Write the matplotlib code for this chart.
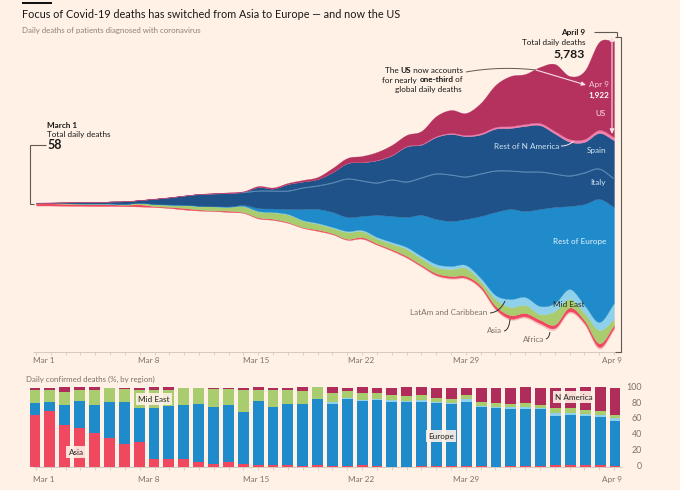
import numpy as np
import matplotlib
matplotlib.use("Agg")
import matplotlib.pyplot as plt

plt.rcParams['font.family'] = ['Lato', 'DejaVu Sans']

# ---------- data ----------
tick_days = [0, 7, 14, 21, 28, 39]
tick_labels = ['Mar 1', 'Mar 8', 'Mar 15', 'Mar 22', 'Mar 29', 'Apr 9']

# Daily deaths by region (stream graph, bottom to top)
africa = [0]*13 + [1,2,3,3,3,4,4,6,6,8,8,10,12,14,20,20,20,20,24,28,30,36,40,30,36,36,40]
asia = [39,42,36,36,34,32,29,42,18,22,30,21,12,25,14,20,20,16,14,24,20,18,30,24,26,30,30,36,40,40,50,60,70,70,70,70,80,60,80,60]
mid_east = [9,9,12,10,15,16,16,29,39,44,61,70,80,78,120,120,129,150,130,118,106,136,118,98,112,138,126,124,140,160,86,136,162,160,114,270,170,144,264,120]
latam = [0]*14 + [4,6,8,10,12,14,18,20,24,30,32,40,50,60,60,60,64,80,160,160,160,160,200,160,160,320]
rest_europe = [1,1,1,1,2,3,3,4,5,5,5,6,6,8,20,60,70,100,220,280,300,280,280,440,520,600,820,900,900,920,1240,1660,1800,1720,1940,1920,1660,2020,2460,1923]
italy = [8,6,16,24,26,38,50,52,100,138,178,226,245,262,250,340,350,360,420,460,580,760,700,640,720,700,740,900,920,840,840,820,760,780,740,660,600,620,600,560]
spain = [0]*8 + [2,3,4,6,8,10,14,80,50,140,130,140,216,316,375,454,492,710,668,740,820,816,790,846,860,920,936,810,686,622,720,770]
rest_n_america = [0]*20 + [3,4,5,6,8,10,12,18,20,24,30,34,38,40,44,50,54,58,62,68]
us = [1,2,3,2,3,1,2,4,4,5,2,2,8,9,12,20,20,22,30,40,80,100,120,160,200,220,260,400,460,440,600,840,1000,1000,1120,1340,1260,1360,1760,1922]
# Lower edge of the stream (deaths below the centre line)
stream_floor = [-30,-30,-34,-36,-40,-40,-44,-50,-60,-80,-110,-130,-140,-160,-180,-290,-320,-380,-480,-540,-610,-720,-700,-820,-940,-1080,-1260,-1440,-1500,-1500,-1700,-2120,-2320,-2280,-2420,-2520,-2180,-2420,-2900,-2520]

# Share of daily deaths, % (bars)
pct_africa = [0]*20 + [0.2]*20
pct_asia = [65,70,52,48.5,42.5,36,29,32,10.6,10,10.6,6.4,3.4,6.4,3.4,3,3,2.5,1.5,2.5,1.5,1.2,3,1.7,.4,.4,1.3,.8,1.3,.8,.8,.4,1.3,1.3,1.3,1.7,2.5,1.7,1.7,1.3]
pct_europe = [16,12,25,34.5,35,46,53,43,63,66.6,67,72,72,71.5,66,80,72,76,78,82.5,79,85,82.5,82.8,81.7,81,80.4,79.6,78,81,74,73,70.6,71.5,71.5,62.5,64,62.5,61.7,56]
pct_latam = [0]*20 + [1.5,1.2,1.7,1.3,2,1.7,2.5,1.7,1.7,3,2,2,2.5,2.5,1.7,4.3,2,2,2,4.3]
pct_mid_east = [15.7,15,17,13.6,19,18,16,22,23,20,22,21,22,20,28,14,22,18,16,15,11.5,8,8.5,8,6.4,6.4,6.8,5,5,4.7,4.7,4,4,4.7,3.8,6.4,6,5,5,4.3]
pct_n_america = [3.4,3,5.5,3.4,3.4,0,2.5,3.4,3,3,0,0,2.5,2.5,3,3.4,3,3,4.6,0,7.6,4.7,7.3,6.8,9.4,10.6,9,12.8,14,10,18,20,21,20,21.7,25.5,26.8,28.9,29.8,34]

# ---------- style ----------
BG = '#fff1e5'
C_US = '#b5325f'; C_PINK = '#f07fae'; C_NAVY = '#1f5288'; C_LINE = '#5f90bd'
C_EUR = '#1f8bca'; C_LAT = '#8fd0ea'; C_ME = '#a9cc6e'; C_ASIA = '#f0495f'; C_AFR = '#f4c6c4'
GREY = '#7d736b'; AXIS = '#d5cabf'; DARK = '#1a1817'; LEAD = '#5f5853'
SMALL = 5.9; LABEL = 5.9

W, H = 680, 490
fig = plt.figure(figsize=(W/100, H/100), dpi=100, facecolor=BG)

def axes_px(x0, x1, y0, y1, **kw):
    return fig.add_axes([x0/W, 1 - y1/H, (x1-x0)/W, (y1-y0)/H], **kw)

def smooth(v, n=16):
    """Cubic (Catmull-Rom) drawing of a daily series, the curve the chart draws between days."""
    v = np.asarray(v, float)
    m = np.gradient(v)
    xs = np.linspace(0, len(v)-1, (len(v)-1)*n+1)
    i = np.minimum(xs.astype(int), len(v)-2)
    t = xs - i
    y = ((2*t**3-3*t**2+1)*v[i] + (t**3-2*t**2+t)*m[i]
         + (-2*t**3+3*t**2)*v[i+1] + (t**3-t**2)*m[i+1])
    return xs, y

# ---------- stream ----------
ax = axes_px(36, 614, 25, 352)
ax.set_facecolor('none')
ax.set_xlim(0, 39)
PX = 20.0  # deaths per pixel
ax.set_ylim((204-352)*PX, (204-25)*PX)

layers = [(africa, C_AFR), (asia, C_ASIA), (mid_east, C_ME), (latam, C_LAT), (rest_europe, C_EUR),
          (italy, C_NAVY), (spain, C_NAVY), (rest_n_america, C_PINK), (us, C_US)]
xs, base = smooth(stream_floor)
edges = []
for vals, col in layers:
    _, th = smooth(vals)
    th = np.clip(th, 0, None)
    top = base + th
    ax.fill_between(xs, base, top, color=col, lw=0.2, zorder=2)
    edges.append(top)
    base = top
mask = xs >= 14
ax.plot(xs[mask], edges[5][mask], color=C_LINE, lw=0.7, zorder=3)
ax.axis('off')

# ---------- bars ----------
bx = axes_px(35, 615, 387.5, 467)
bx.set_facecolor('none')
bx.set_xlim(0, 39)
bx.set_ylim(0, 100)
bar_layers = [(pct_africa, C_AFR), (pct_asia, C_ASIA), (pct_europe, C_EUR), (pct_latam, C_LAT),
              (pct_mid_east, C_ME), (pct_n_america, '#b02c5a')]
totals = np.sum([np.array(v, float) for v, _ in bar_layers], axis=0)
bottom = np.zeros(40)
days = np.arange(40)
for vals, col in bar_layers:
    h = np.array(vals, float) / totals * 100
    bx.bar(days, h, bottom=bottom, width=0.73, color=col, lw=0, clip_on=False, zorder=2)
    bottom += h
bx.axis('off')

# ---------- overlay in pixels ----------
ov = fig.add_axes([0, 0, 1, 1], facecolor='none', zorder=5)
ov.set_xlim(0, W); ov.set_ylim(H, 0); ov.axis('off')

def T(x, y, s, size=SMALL, color=DARK, ha='left', weight='normal', **kw):
    return ov.text(x, y, s, fontsize=size, color=color, ha=ha, va='center', fontweight=weight, **kw)

def mixed(xr, y, parts, size=SMALL, color=DARK):
    """Right aligned line with bold words. parts = [(text, bold), ...]"""
    r = fig.canvas.get_renderer()
    ts = [T(0, y, s, size=size, color=color, weight='bold' if b else 'normal') for s, b in parts]
    inv = ov.transData.inverted()
    ws = []
    for t in ts:
        bb = t.get_window_extent(r)
        ws.append(inv.transform((bb.x1, 0))[0] - inv.transform((bb.x0, 0))[0])
    x = xr - sum(ws)
    for t, w in zip(ts, ws):
        t.set_x(x)
        x += w

def L(xs_, ys_, color=LEAD, lw=0.8, **kw):
    ov.plot(xs_, ys_, color=color, lw=lw, solid_capstyle='butt', solid_joinstyle='miter', **kw)

def curve(p0, p1, p2, color=LEAD, lw=0.7):
    t = np.linspace(0, 1, 30)
    x = (1-t)**2*p0[0] + 2*t*(1-t)*p1[0] + t**2*p2[0]
    y = (1-t)**2*p0[1] + 2*t*(1-t)*p1[1] + t**2*p2[1]
    L(x, y, color=color, lw=lw)

# title block
ov.add_patch(plt.Rectangle((22, 1.8), 30, 2, color='#111111', lw=0))
T(22, 15, 'Focus of Covid-19 deaths has switched from Asia to Europe — and now the US', size=7.8, color='#1a1817')
T(22, 31, 'Daily deaths of patients diagnosed with coronavirus', size=5.7, color='#8b8179')

# axis lines and ticks
for ya, yb in [(352, 355), (467, 470)]:
    L([33, 622], [ya, ya], color=AXIS, lw=0.7)
    for d in range(40):
        xp = 36 + d*578/39
        L([xp, xp], [ya, yb], color=AXIS, lw=0.6)
label_left = [33, 138, 243, 348, 453]
for yl in (360, 479):
    for lab, xl in zip(tick_labels[:5], label_left):
        T(xl, yl, lab, size=LABEL, color=GREY)
    T(622, yl, tick_labels[5], size=LABEL, color=GREY, ha='right')

# left annotation
T(47, 125, 'March 1', size=SMALL, weight='bold')
T(47, 134, 'Total daily deaths', size=SMALL)
T(47, 145, '58', size=9.0, weight='bold')
L([45.5, 30, 30, 34], [145, 145, 204, 204], color=LEAD)

# right annotation
T(585, 33, 'April 9', size=SMALL, ha='right', weight='bold')
T(585, 42.5, 'Total daily deaths', size=SMALL, ha='right')
T(585, 54, '5,783', size=8.8, ha='right', weight='bold')
L([594, 617, 617], [32.5, 32.5, 37], color=LEAD)
L([614.5, 620.5, 620.5, 615], [37.5, 37.5, 352, 352], color=LEAD)
ov.annotate('', xy=(612, 36), xytext=(612, 134),
            arrowprops=dict(arrowstyle='<|-|>,head_width=0.13,head_length=0.28', color='#fbdde6', lw=0.8, shrinkA=0, shrinkB=0))

# US callout
mixed(463, 70.5, [('The ', False), ('US', True), (' now accounts', False)])
mixed(463, 80, [('for nearly ', False), ('one-third', True), (' of', False)])
mixed(462, 89.5, [('global daily deaths', False)])
curve((466, 72), (500, 66), (536, 70), color=LEAD)
ov.annotate('', xy=(586, 85), xytext=(536, 70),
            arrowprops=dict(arrowstyle='-|>,head_width=0.12,head_length=0.25', color='#fbdde6', lw=0.8, shrinkA=0, shrinkB=0))

# stream labels
PALE = '#fbe3ea'
T(609, 85, 'Apr 9', size=SMALL, color='#f6c9d8', ha='right')
T(609, 95, '1,922', size=SMALL, color='white', ha='right', weight='bold')
T(606, 113, 'US', size=LABEL, color=PALE, ha='right')
T(606, 150.5, 'Spain', size=LABEL, color='#cfe3f2', ha='right')
T(606, 182, 'Italy', size=LABEL, color='#cfe3f2', ha='right')
T(606, 241, 'Rest of Europe', size=LABEL, color='#e6f3fb', ha='right')
T(559, 146, 'Rest of N America', size=LABEL, color='#cfe3f2', ha='right')
curve((561, 146), (568, 146), (574, 141), color=PALE, lw=0.7)

T(487, 312.5, 'LatAm and Caribbean', size=LABEL, color=GREY, ha='right')
curve((490, 313), (500, 312), (505, 301), color='#333')
T(502, 330, 'Asia', size=LABEL, color=GREY, ha='right')
curve((504, 331), (509, 330), (510, 319), color='#333')
T(544, 339, 'Africa', size=LABEL, color=GREY, ha='right')
curve((546, 339), (549, 338), (550, 332), color='#333')
T(569, 304, 'Mid East', size=LABEL, color='#2a2a20', ha='center')

# bar labels
T(26, 379, 'Daily confirmed deaths (%, by region)', size=5.7, color=GREY)
box = dict(boxstyle='square,pad=0.3', fc=BG, ec='none', alpha=0.9)
for xc, yc, s in [(154, 399, 'Mid East'), (76, 452, 'Asia'), (441, 436, 'Europe'), (574, 397, 'N America')]:
    T(xc, yc, s, size=LABEL, color='#222', ha='center', bbox=box)
for v, yy in zip([100, 80, 60, 40, 20, 0], [387, 403, 418, 434, 450, 466]):
    T(642, yy, str(v), size=6.4, color=GREY, ha='right')

fig.savefig('out.png', dpi=100, facecolor=BG)
